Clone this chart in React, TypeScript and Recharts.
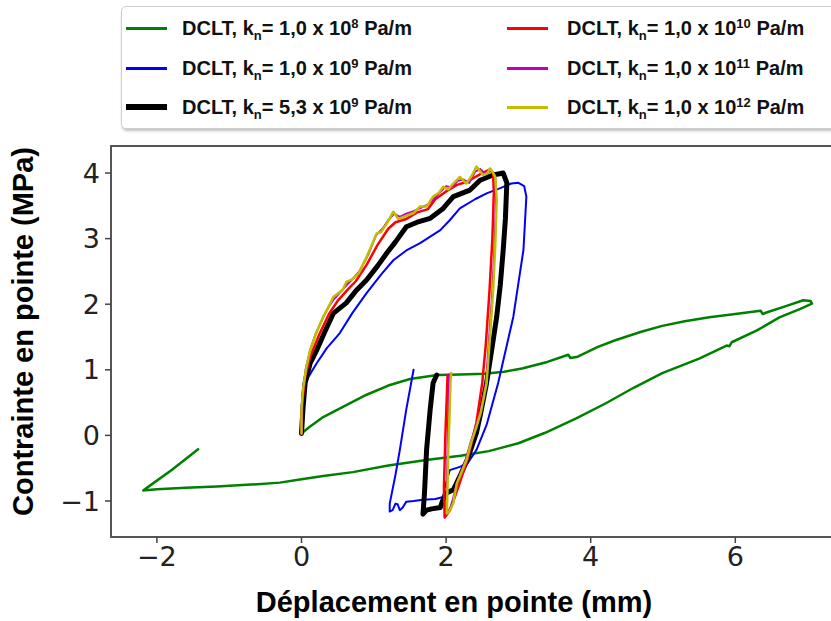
import React from 'react';
import { LineChart, Line, XAxis, YAxis, ReferenceArea, Legend, Label } from 'recharts';

type P = [number, number];

const xTicks = [-2, 0, 2, 4, 6];
const yTicks = [-1, 0, 1, 2, 3, 4];
const xDomain: [number, number] = [-2.635, 7.462];
const yDomain: [number, number] = [-1.549, 4.412];

const greenCurve: P[] = [
  [0, 0.03], [0.1, 0.12], [0.3, 0.28], [0.58, 0.44], [0.9, 0.62], [1.2, 0.76], [1.5, 0.86],
  [1.88, 0.92], [2.2, 0.93], [2.53, 0.94], [2.8, 0.97], [3.05, 1.02], [3.4, 1.12], [3.69, 1.23],
  [3.72, 1.18], [3.82, 1.2], [4.1, 1.35], [4.34, 1.45], [4.7, 1.58], [4.99, 1.67], [5.3, 1.74],
  [5.64, 1.8], [6.0, 1.85], [6.35, 1.9], [6.38, 1.85], [6.42, 1.87], [6.7, 1.97], [6.94, 2.06],
  [7.04, 2.05], [7.06, 2.01], [6.9, 1.93], [6.61, 1.8], [6.3, 1.6], [5.95, 1.42], [5.92, 1.36],
  [5.88, 1.37], [5.5, 1.17], [4.99, 0.95], [4.6, 0.73], [4.21, 0.49], [3.8, 0.26], [3.37, 0.04],
  [3.0, -0.12], [2.59, -0.24], [2.2, -0.31], [1.75, -0.37], [1.2, -0.46], [0.71, -0.56],
  [0.3, -0.62], [0.0, -0.67], [-0.3, -0.72], [-0.7, -0.75], [-1.17, -0.78], [-1.6, -0.8],
  [-2.0, -0.82], [-2.19, -0.84], [-2.14, -0.8], [-1.8, -0.53], [-1.43, -0.21],
];

const blueCurve: P[] = [
  [0, 0.03], [0.01, 0.35], [0.02, 0.69], [0.1, 0.9], [0.21, 1.1], [0.35, 1.33], [0.53, 1.56],
  [0.7, 1.86], [0.9, 2.17], [1.1, 2.45], [1.27, 2.67], [1.45, 2.82], [1.64, 2.93], [1.92, 3.13],
  [2.05, 3.28], [2.19, 3.46], [2.4, 3.6], [2.56, 3.69], [2.75, 3.77], [2.9, 3.84], [3.0, 3.85],
  [3.08, 3.8], [3.11, 3.64], [3.07, 2.83], [2.93, 1.81], [2.72, 0.8], [2.56, 0.16], [2.42, -0.22],
  [2.3, -0.42], [2.19, -0.48], [2.05, -0.53], [1.98, -0.8], [1.96, -0.94], [1.85, -0.97],
  [1.68, -0.98], [1.55, -1.0], [1.45, -1.01], [1.4, -1.1], [1.36, -1.14], [1.33, -1.05],
  [1.3, -1.04], [1.26, -1.14], [1.22, -1.16], [1.22, -1.04], [1.3, -0.6], [1.36, -0.22],
  [1.45, 0.4], [1.55, 1.0],
];

const blackCurve: P[] = [
  [0, 0.03], [0.02, 0.4], [0.05, 0.8], [0.12, 1.1], [0.21, 1.3], [0.33, 1.6], [0.44, 1.86],
  [0.62, 2.02], [0.75, 2.2], [0.9, 2.37], [1.05, 2.58], [1.18, 2.78], [1.3, 2.95], [1.45, 3.18],
  [1.6, 3.25], [1.78, 3.31], [1.95, 3.45], [2.1, 3.64], [2.33, 3.74], [2.47, 3.89], [2.65, 3.97],
  [2.79, 4.0], [2.84, 3.85], [2.82, 3.3], [2.79, 2.83], [2.75, 2.3], [2.7, 1.81], [2.63, 1.3],
  [2.56, 0.8], [2.48, 0.35], [2.42, 0.04], [2.29, -0.38], [2.2, -0.6], [2.1, -0.83], [2.0, -0.88],
  [1.95, -1.0], [1.92, -1.1], [1.8, -1.12], [1.73, -1.14], [1.68, -1.2], [1.7, -0.9],
  [1.73, -0.22], [1.78, 0.4], [1.82, 0.8], [1.87, 0.92],
];

const redCurve: P[] = [
  [0, 0.03], [0.01, 0.5], [0.05, 0.9], [0.12, 1.2], [0.25, 1.55], [0.38, 1.85], [0.5, 2.05],
  [0.62, 2.2], [0.75, 2.35], [0.9, 2.6], [1.05, 2.9], [1.2, 3.15], [1.3, 3.25], [1.45, 3.3],
  [1.6, 3.4], [1.75, 3.45], [1.85, 3.6], [2.0, 3.72], [2.15, 3.82], [2.3, 3.87], [2.42, 3.95],
  [2.5, 4.0], [2.6, 4.05], [2.65, 4.0], [2.66, 3.7], [2.64, 3.0], [2.6, 2.2], [2.55, 1.4],
  [2.5, 0.8], [2.42, 0.2], [2.3, -0.35], [2.18, -0.75], [2.1, -1.0], [2.05, -1.15], [1.98, -1.25],
  [1.97, -0.8], [1.99, 0.0], [2.01, 0.6], [2.02, 0.92],
];

const magentaCurve: P[] = [
  [0, 0.03], [0.0, 0.4], [0.02, 0.7], [0.06, 1.02], [0.12, 1.3], [0.2, 1.56], [0.3, 1.8],
  [0.38, 1.97], [0.45, 2.08], [0.55, 2.2], [0.63, 2.3], [0.72, 2.4], [0.8, 2.5], [0.92, 2.75],
  [1.03, 3.05], [1.12, 3.15], [1.2, 3.28], [1.28, 3.38], [1.36, 3.33], [1.45, 3.38], [1.55, 3.42],
  [1.65, 3.47], [1.75, 3.52], [1.84, 3.62], [1.93, 3.72], [2.0, 3.8], [2.08, 3.78], [2.16, 3.88],
  [2.24, 3.9], [2.32, 3.85], [2.4, 4.02], [2.47, 4.06], [2.55, 3.98], [2.62, 4.04], [2.68, 3.96],
  [2.69, 3.6], [2.67, 2.9], [2.64, 2.2], [2.59, 1.4], [2.55, 0.79], [2.47, 0.35], [2.41, 0.13],
  [2.34, -0.1], [2.27, -0.38], [2.19, -0.6], [2.14, -0.75], [2.1, -0.95], [2.06, -1.1],
  [2.0, -1.22], [2.01, -0.8], [2.02, -0.2], [2.03, 0.4], [2.04, 0.93],
];

const yellowCurve: P[] = [
  [0, 0.03], [0.0, 0.4], [0.02, 0.69], [0.06, 1.0], [0.12, 1.3], [0.2, 1.55], [0.3, 1.81],
  [0.37, 1.95], [0.44, 2.11], [0.57, 2.22], [0.62, 2.34], [0.7, 2.38], [0.79, 2.47], [0.9, 2.72],
  [1.04, 3.08], [1.1, 3.1], [1.18, 3.23], [1.27, 3.41], [1.34, 3.3], [1.41, 3.33], [1.55, 3.39],
  [1.64, 3.49], [1.73, 3.49], [1.82, 3.64], [1.9, 3.7], [1.96, 3.79], [2.03, 3.75], [2.1, 3.84],
  [2.19, 3.94], [2.28, 3.84], [2.35, 3.95], [2.42, 4.1], [2.51, 3.97], [2.57, 4.0], [2.61, 4.07],
  [2.68, 3.94], [2.7, 3.6], [2.68, 2.9], [2.65, 2.2], [2.6, 1.4], [2.56, 0.79], [2.48, 0.35],
  [2.42, 0.13], [2.35, -0.1], [2.28, -0.38], [2.2, -0.6], [2.15, -0.73], [2.12, -0.9],
  [2.1, -1.03], [2.05, -1.15], [2.01, -1.19], [2.02, -0.8], [2.03, -0.22], [2.05, 0.4],
  [2.06, 0.79], [2.07, 0.95],
];

const seriesNames = ['g', 'b', 'k', 'r', 'm', 'y'];
const seriesColors = ['#008000', '#0000ff', '#000000', '#ff0000', '#bf00bf', '#bfbf00'];
const seriesWidths = [2.5, 2, 5, 2.5, 2, 2.5];
const legendMantissa = ['1,0', '1,0', '5,3', '1,0', '1,0', '1,0'];
const legendExponent = ['8', '9', '9', '10', '11', '12'];
const curves = [greenCurve, blueCurve, blackCurve, redCurve, magentaCurve, yellowCurve];

const toData = (c: P[]) => c.map(([x, y]) => ({ x, y }));

const tickFont = { fontFamily: 'DejaVu Sans', fontSize: 27, fill: '#222' };
const titleFont = { fontFamily: 'Liberation Sans, Arial', fontWeight: 'bold' as const, fontSize: 29, fill: '#000' };

const LegendBox = () => {
  const cols = [
    { sx: 126, tx: 182 },
    { sx: 507, tx: 567 },
  ];
  const rows = [28, 68, 107];
  return (
    <div style={{ position: 'absolute', left: 0, top: 0, width: 860, height: 140 }}>
      <div
        style={{
          position: 'absolute', left: 121, top: 6, width: 760, height: 121,
          border: '1.5px solid #cfcfcf', borderRadius: 5, background: '#fff',
          boxShadow: '1px 2px 3px rgba(0,0,0,0.25)',
        }}
      />
      {seriesNames.map((n, i) => {
        const col = cols[Math.floor(i / 3)];
        const cy = rows[i % 3];
        const w = i === 2 ? 6 : 3;
        return (
          <React.Fragment key={n}>
            <div style={{ position: 'absolute', left: col.sx, top: cy - w / 2, width: 41, height: w, background: seriesColors[i] }} />
            <div
              style={{
                position: 'absolute', left: col.tx, top: cy - 12, height: 24, lineHeight: '24px',
                whiteSpace: 'nowrap', fontFamily: 'Liberation Sans, Arial', fontWeight: 'bold', fontSize: 20, color: '#111',
              }}
            >
              DCLT, k<span style={{ fontSize: 13, position: 'relative', top: 5 }}>n</span>= {legendMantissa[i]} x 10
              <span style={{ fontSize: 13, position: 'relative', top: -7 }}>{legendExponent[i]}</span> Pa/m
            </div>
          </React.Fragment>
        );
      })}
    </div>
  );
};

export default function App() {
  return (
    <div style={{ position: 'fixed', left: 0, top: 0, width: 831, height: 621, overflow: 'hidden', background: '#fff' }}>
      <LineChart width={860} height={621} margin={{ top: 146, right: 19, bottom: 0, left: 0 }}>
        <XAxis
          type="number" dataKey="x" domain={xDomain} ticks={xTicks} allowDataOverflow
          height={84} axisLine={false} tickSize={6} tickLine={{ stroke: '#444', strokeWidth: 1.5 }}
          tick={tickFont} tickMargin={4} tickFormatter={(v: number) => (v < 0 ? `\u2212${-v}` : `${v}`)}
        >
          <Label
            content={(props: any) => {
              const vb = props.viewBox;
              return (
                <text x={vb.x + vb.width / 2 - 22} y={vb.y + 75} textAnchor="middle" {...titleFont}>
                  Déplacement en pointe (mm)
                </text>
              );
            }}
          />
        </XAxis>
        <YAxis
          type="number" dataKey="y" domain={yDomain} ticks={yTicks} allowDataOverflow
          width={111} axisLine={false} tickSize={6} tickLine={{ stroke: '#444', strokeWidth: 1.5 }}
          tick={tickFont} tickMargin={5} tickFormatter={(v: number) => (v < 0 ? `\u2212${-v}` : `${v}`)}
        >
          <Label
            content={(props: any) => {
              const vb = props.viewBox;
              const cx = 23;
              const cy = vb.y + vb.height / 2 - 10;
              return (
                <text x={cx} y={cy} textAnchor="middle" dominantBaseline="central" transform={`rotate(-90, ${cx}, ${cy})`} {...titleFont}>
                  Contrainte en pointe (MPa)
                </text>
              );
            }}
          />
        </YAxis>
        <ReferenceArea x1={xDomain[0]} x2={xDomain[1]} y1={yDomain[0]} y2={yDomain[1]} fill="none" stroke="#555" strokeWidth={2} ifOverflow="visible" />
        {curves.map((c, i) => (
          <Line
            key={seriesNames[i]} data={toData(c)} dataKey="y" type="linear" stroke={seriesColors[i]}
            strokeWidth={seriesWidths[i]} dot={false} activeDot={false} isAnimationActive={false}
            strokeLinejoin="round" strokeLinecap="round"
          />
        ))}
        <Legend verticalAlign="middle" layout="horizontal" wrapperStyle={{ position: 'absolute', left: 0, top: 0, width: 860, height: 140 }} content={() => <LegendBox />} />
      </LineChart>
    </div>
  );
}
